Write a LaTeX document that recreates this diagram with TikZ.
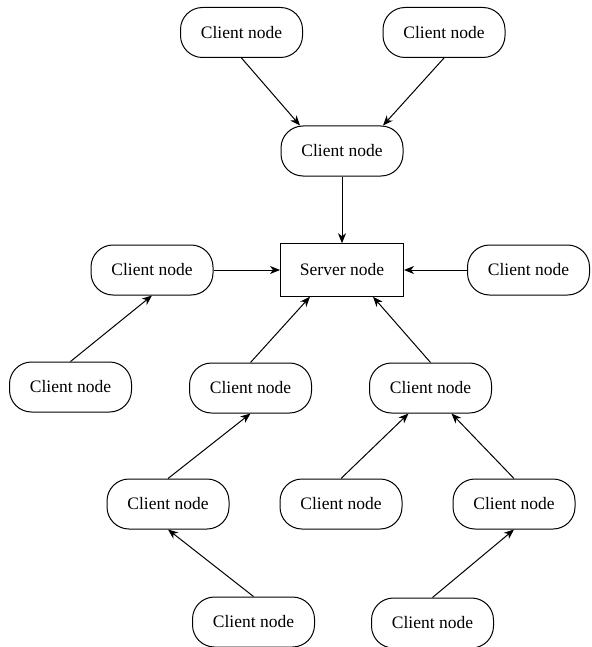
\documentclass[tikz,border=0pt]{standalone}
\usepackage{fontspec}
\setmainfont{Liberation Serif}
\usetikzlibrary{arrows.meta}

\begin{document}
\begin{tikzpicture}[x=1pt, y=-1pt, line width=1pt,
    cliente/.style={draw, rounded corners=22pt, minimum width=122pt, minimum height=50pt, font=\fontsize{17.5}{21}\selectfont},
    servidor/.style={draw, minimum width=123pt, minimum height=52.5pt, font=\fontsize{17.5}{21}\selectfont},
    seta/.style={-{Stealth[length=10pt, width=8pt, inset=3pt]}}]
    \useasboundingbox (0,0) rectangle (591,647); % tamanho da figura
    \node[servidor] (server) at (342,270) {Server node}; % no central
    \node[cliente] (c1) at (241.5,32.5) {Client node};
    \node[cliente] (c2) at (444,32.5) {Client node};
    \node[cliente] (c3) at (342,151) {Client node};
    \node[cliente] (c4) at (152,270) {Client node};
    \node[cliente] (c5) at (528.5,270) {Client node};
    \node[cliente] (c6) at (70.5,387) {Client node};
    \node[cliente] (c7) at (250.5,388) {Client node};
    \node[cliente] (c8) at (430.5,388) {Client node};
    \node[cliente] (c9) at (168,504) {Client node};
    \node[cliente] (c10) at (341,504) {Client node};
    \node[cliente] (c11) at (514,504) {Client node};
    \node[cliente] (c12) at (253.5,622) {Client node};
    \node[cliente] (c13) at (432.5,623) {Client node};
    \draw[seta] (c1.south) -- ([xshift=-42pt]c3.north); % ramo de cima
    \draw[seta] (c2.south) -- ([xshift=41pt]c3.north);
    \draw[seta] (c3.south) -- (server.north);
    \draw[seta] (c4.east) -- (server.west); % lados
    \draw[seta] (c5.west) -- (server.east);
    \draw[seta] (c6.north) -- (c4.south);
    \draw[seta] (c7.north) -- ([xshift=-32pt]server.south); % ramos de baixo
    \draw[seta] (c8.north) -- ([xshift=31pt]server.south);
    \draw[seta] (c9.north) -- (c7.south);
    \draw[seta] (c10.north) -- ([xshift=-22pt]c8.south);
    \draw[seta] (c11.north) -- ([xshift=21pt]c8.south);
    \draw[seta] (c12.north) -- (c9.south);
    \draw[seta] (c13.north) -- (c11.south);
\end{tikzpicture}
\end{document}
